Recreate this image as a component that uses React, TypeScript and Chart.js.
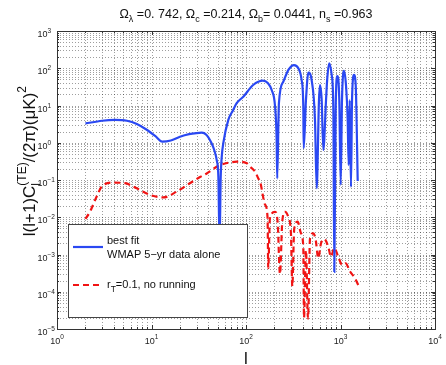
import React, { useEffect, useRef } from 'react';
import { Chart, registerables } from 'chart.js';

Chart.register(...registerables);

// ---- data (multipole l, |l(l+1)C_l^TE/2pi|) ----
const blueL = [2, 3, 4.1, 5.5, 7, 9, 11, 13, 16, 20, 25, 30, 34, 38, 43, 46, 49, 51, 52.5, 54, 55.5, 57.6, 65, 73, 80, 93.6, 119, 151, 170, 187, 203, 211, 214, 223, 248, 281, 322, 358, 388, 404, 408, 431, 457, 495, 537, 560, 592, 607, 632, 658, 703, 725, 760, 807, 840, 860, 889, 925, 971, 1005, 1037, 1089, 1143, 1191, 1221, 1251, 1291, 1324, 1390, 1449, 1521];
const blueV = [3.3, 3.9, 4.1, 3.9, 3.2, 2.2, 1.5, 1.07, 1.15, 1.45, 1.7, 1.82, 1.86, 1.65, 1.0, 0.65, 0.34, 0.12, 0.002, 0.12, 0.45, 1.0, 4.1, 7.5, 11.7, 17.2, 35.5, 46.5, 40, 26, 9.4, 1.2, 0.11, 11.5, 43.6, 90, 122, 100, 48, 9.3, 0.72, 14, 76, 48, 4.1, 0.06, 14, 35.5, 14, 0.64, 14, 55, 136, 66, 7.5, 0.00034, 7.5, 62, 14, 0.074, 14, 85, 35, 4.1, 0.25, 14, 0.065, 14, 66, 35, 0.094];

const redL = [2, 2.23, 2.63, 2.97, 3.94, 5.24, 6.97, 9.6, 13.3, 18.5, 25.5, 32.6, 38.4, 51, 65, 80, 102, 110, 125, 135, 141, 159, 169, 172, 179, 203, 216, 229, 242, 259, 281, 299, 309, 324, 352, 382, 404, 411, 431, 453, 476, 516, 546, 582, 622, 675, 743, 793, 860, 947, 1045, 1135, 1262, 1423, 1542];
const redV = [0.009, 0.014, 0.036, 0.066, 0.085, 0.082, 0.06, 0.04, 0.034, 0.049, 0.082, 0.12, 0.15, 0.24, 0.29, 0.31, 0.28, 0.23, 0.167, 0.11, 0.09, 0.022, 0.01, 0.00043, 0.0093, 0.014, 0.0076, 0.0003, 0.0076, 0.014, 0.01, 0.0037, 0.00014, 0.005, 0.0076, 0.0037, 0.0016, 0.00002, 0.0013, 0.000019, 0.0027, 0.0037, 0.0025, 0.00079, 0.002, 0.0026, 0.0016, 0.00087, 0.0015, 0.00087, 0.00052, 0.00058, 0.00035, 0.00023, 0.00015];

const xTickExps = [0, 1, 2, 3, 4];
const yTickExps = [-5, -4, -3, -2, -1, 0, 1, 2, 3];

const blueLegend = ['best fit', 'WMAP 5\u2212yr data alone'];
const redLegend = ['r', 'T', '=0.1, no running'];

const BLUE = '#2a48f2';
const RED = '#f01414';
const FONT = '"Liberation Sans", Arial, Helvetica, sans-serif';

type Part = { t: string; size: number; dy: number; group?: number };

function partsWidth(ctx: CanvasRenderingContext2D, parts: Part[]) {
  let w = 0;
  let i = 0;
  while (i < parts.length) {
    const p = parts[i];
    if (p.group !== undefined) {
      let m = 0;
      while (i < parts.length && parts[i].group === p.group) {
        ctx.font = `${parts[i].size}px ${FONT}`;
        m = Math.max(m, ctx.measureText(parts[i].t).width);
        i++;
      }
      w += m;
    } else {
      ctx.font = `${p.size}px ${FONT}`;
      w += ctx.measureText(p.t).width;
      i++;
    }
  }
  return w;
}

function drawParts(ctx: CanvasRenderingContext2D, parts: Part[], x0: number, y0: number) {
  let x = x0;
  let i = 0;
  ctx.textAlign = 'left';
  ctx.textBaseline = 'alphabetic';
  while (i < parts.length) {
    const p = parts[i];
    if (p.group !== undefined) {
      let m = 0;
      while (i < parts.length && parts[i].group === p.group) {
        const q = parts[i];
        ctx.font = `${q.size}px ${FONT}`;
        ctx.fillText(q.t, x, y0 + q.dy);
        m = Math.max(m, ctx.measureText(q.t).width);
        i++;
      }
      x += m;
    } else {
      ctx.font = `${p.size}px ${FONT}`;
      ctx.fillText(p.t, x, y0 + p.dy);
      x += ctx.measureText(p.t).width;
      i++;
    }
  }
}

const decorPlugin = {
  id: 'decor',
  beforeDatasetsDraw(chart: any) {
    const { ctx, chartArea: a, scales } = chart;
    const xs = scales.x;
    const ys = scales.y;
    ctx.save();
    ctx.strokeStyle = 'rgba(0,0,0,0.38)';
    ctx.lineWidth = 1;
    ctx.setLineDash([1, 2]);
    for (let e = xTickExps[0]; e < xTickExps[xTickExps.length - 1]; e++) {
      for (let m = 1; m <= 9; m++) {
        if (e === xTickExps[0] && m === 1) continue;
        const px = Math.round(xs.getPixelForValue(m * Math.pow(10, e))) + 0.5;
        ctx.beginPath();
        ctx.moveTo(px, a.top);
        ctx.lineTo(px, a.bottom);
        ctx.stroke();
      }
    }
    for (let e = yTickExps[0]; e < yTickExps[yTickExps.length - 1]; e++) {
      for (let m = 1; m <= 9; m++) {
        if (e === yTickExps[0] && m === 1) continue;
        const py = Math.round(ys.getPixelForValue(m * Math.pow(10, e))) + 0.5;
        ctx.beginPath();
        ctx.moveTo(a.left, py);
        ctx.lineTo(a.right, py);
        ctx.stroke();
      }
    }
    ctx.restore();
  },
  afterDatasetsDraw(chart: any) {
    const { ctx, chartArea: a, scales } = chart;
    const xs = scales.x;
    const ys = scales.y;
    ctx.save();
    ctx.setLineDash([]);

    // frame
    ctx.strokeStyle = '#333';
    ctx.lineWidth = 1;
    ctx.strokeRect(a.left + 0.5, a.top + 0.5, a.right - a.left, a.bottom - a.top);

    // inner ticks
    ctx.beginPath();
    for (let e = xTickExps[0]; e <= xTickExps[xTickExps.length - 1]; e++) {
      for (let m = 1; m <= 9; m++) {
        const v = m * Math.pow(10, e);
        if (v > Math.pow(10, xTickExps[xTickExps.length - 1])) break;
        const px = Math.round(xs.getPixelForValue(v)) + 0.5;
        const len = m === 1 ? 4 : 2;
        ctx.moveTo(px, a.bottom);
        ctx.lineTo(px, a.bottom - len);
        ctx.moveTo(px, a.top);
        ctx.lineTo(px, a.top + len);
      }
    }
    for (let e = yTickExps[0]; e <= yTickExps[yTickExps.length - 1]; e++) {
      for (let m = 1; m <= 9; m++) {
        const v = m * Math.pow(10, e);
        if (v > Math.pow(10, yTickExps[yTickExps.length - 1]) * 1.0001) break;
        const py = Math.round(ys.getPixelForValue(v)) + 0.5;
        const len = m === 1 ? 4 : 2;
        ctx.moveTo(a.left, py);
        ctx.lineTo(a.left + len, py);
        ctx.moveTo(a.right, py);
        ctx.lineTo(a.right - len, py);
      }
    }
    ctx.stroke();

    // tick labels
    ctx.fillStyle = '#222';
    for (const e of xTickExps) {
      const px = xs.getPixelForValue(Math.pow(10, e));
      const parts: Part[] = [
        { t: '10', size: 9, dy: 0 },
        { t: String(e).replace('-', '\u2212'), size: 6.5, dy: -5 },
      ];
      const w = partsWidth(ctx, parts);
      drawParts(ctx, parts, px - w / 2, a.bottom + 14.5);
    }
    for (const e of yTickExps) {
      const py = ys.getPixelForValue(Math.pow(10, e));
      const parts: Part[] = [
        { t: '10', size: 9, dy: 0 },
        { t: String(e).replace('-', '\u2212'), size: 6.5, dy: -4 },
      ];
      drawParts(ctx, parts, 37.5, py + 6);
    }

    // legend box
    const lx = 68, ly = 224, lw = 179, lh = 93;
    ctx.fillStyle = '#fff';
    ctx.fillRect(lx, ly, lw, lh);
    ctx.strokeStyle = '#444';
    ctx.lineWidth = 1;
    ctx.strokeRect(lx + 0.5, ly + 0.5, lw, lh);

    ctx.lineWidth = 2.2;
    ctx.strokeStyle = BLUE;
    ctx.beginPath();
    ctx.moveTo(lx + 5, ly + 23);
    ctx.lineTo(lx + 35, ly + 23);
    ctx.stroke();
    ctx.strokeStyle = RED;
    ctx.setLineDash([6, 4]);
    ctx.beginPath();
    ctx.moveTo(lx + 5, ly + 61);
    ctx.lineTo(lx + 33, ly + 61);
    ctx.stroke();
    ctx.setLineDash([]);

    ctx.fillStyle = '#111';
    ctx.font = `11px ${FONT}`;
    ctx.textAlign = 'left';
    ctx.textBaseline = 'alphabetic';
    ctx.fillText(blueLegend[0], lx + 39, ly + 20);
    ctx.fillText(blueLegend[1], lx + 39, ly + 33.5);
    drawParts(ctx, [
      { t: redLegend[0], size: 11, dy: 0 },
      { t: redLegend[1], size: 8.5, dy: 4 },
      { t: redLegend[2], size: 11, dy: 0 },
    ], lx + 39, ly + 64);

    // title
    const title: Part[] = [
      { t: '\u03A9', size: 12.5, dy: 0 },
      { t: '\u03BB', size: 9, dy: 4 },
      { t: ' =0. 742, \u03A9', size: 12.5, dy: 0 },
      { t: 'c', size: 9, dy: 4 },
      { t: ' =0.214, \u03A9', size: 12.5, dy: 0 },
      { t: 'b', size: 9, dy: 4 },
      { t: '= 0.0441, n', size: 12.5, dy: 0 },
      { t: 's', size: 9, dy: 4 },
      { t: ' =0.963', size: 12.5, dy: 0 },
    ];
    ctx.fillStyle = '#111';
    const tw = partsWidth(ctx, title);
    drawParts(ctx, title, (a.left + a.right) / 2 - tw / 2, 18);

    // x axis label
    ctx.font = `17px ${FONT}`;
    ctx.textAlign = 'center';
    ctx.fillText('l', (a.left + a.right) / 2, 364);

    // y axis label (rotated)
    const ylab: Part[] = [
      { t: 'l(l+1)C', size: 17, dy: 0 },
      { t: '(TE)', size: 12, dy: -9, group: 1 },
      { t: 'l', size: 12, dy: 5, group: 1 },
      { t: '/(2\u03C0)(\u03BCK)', size: 17, dy: 0 },
      { t: '2', size: 12, dy: -9 },
    ];
    const yw = partsWidth(ctx, ylab);
    ctx.translate(35, 86 + yw);
    ctx.rotate(-Math.PI / 2);
    drawParts(ctx, ylab, 0, 0);
    ctx.restore();
  },
};

export default function App() {
  const ref = useRef<HTMLCanvasElement>(null);
  useEffect(() => {
    const chart = new Chart(ref.current as HTMLCanvasElement, {
      type: 'line',
      data: {
        datasets: [
          {
            label: 'best fit WMAP 5-yr data alone',
            data: blueL.map((l, i) => ({ x: l, y: blueV[i] })),
            borderColor: BLUE,
            borderWidth: 2.2,
            pointRadius: 0,
            cubicInterpolationMode: 'monotone',
            fill: false,
          },
          {
            label: 'r_T=0.1, no running',
            data: redL.map((l, i) => ({ x: l, y: redV[i] })),
            borderColor: RED,
            borderWidth: 2.2,
            borderDash: [6, 4],
            pointRadius: 0,
            cubicInterpolationMode: 'monotone',
            fill: false,
          },
        ],
      },
      options: {
        responsive: false,
        animation: false,
        events: [],
        layout: { padding: { left: 57, top: 31, right: 11, bottom: 36 } },
        scales: {
          x: { type: 'logarithmic', min: 1, max: 10000, display: false },
          y: { type: 'logarithmic', min: 1e-5, max: 1000, display: false },
        },
        plugins: {
          legend: { display: false },
          tooltip: { enabled: false },
          title: { display: false },
        },
      } as any,
      plugins: [decorPlugin as any],
    });
    return () => chart.destroy();
  }, []);
  return (
    <div style={{ position: 'fixed', left: 0, top: 0, width: 446, height: 365, background: '#fff' }}>
      <canvas ref={ref} width={446} height={365} style={{ display: 'block', width: 446, height: 365 }} />
    </div>
  );
}
